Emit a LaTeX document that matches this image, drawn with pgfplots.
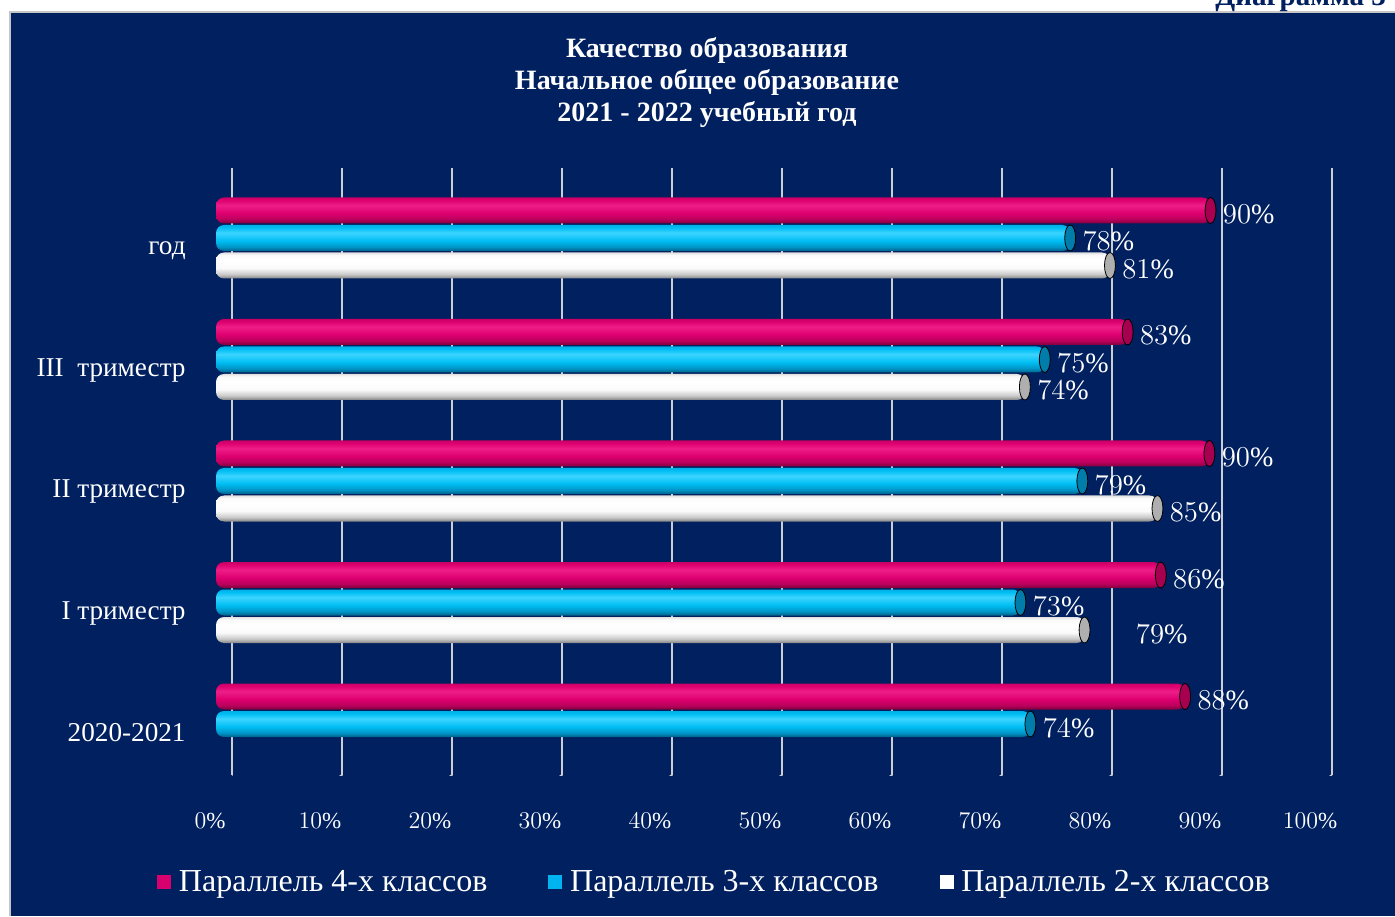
\documentclass[border=0pt]{standalone}
\usepackage{fontspec}
\setmainfont{Liberation Serif}
\usepackage{pgfplots}
\usepackage{pgfplotstable}
\pgfplotsset{compat=1.18}

\definecolor{navy}{RGB}{0,32,96}
\definecolor{gridc}{RGB}{205,205,212}
\definecolor{magD}{RGB}{125,0,58}
\definecolor{magM}{RGB}{185,0,92}
\definecolor{magB}{RGB}{222,0,112}
\definecolor{magL}{RGB}{238,30,135}
\definecolor{magT}{RGB}{200,0,100}
\definecolor{magC}{RGB}{168,0,80}
\definecolor{cyaD}{RGB}{0,95,135}
\definecolor{cyaM}{RGB}{0,150,200}
\definecolor{cyaB}{RGB}{0,190,243}
\definecolor{cyaL}{RGB}{60,212,255}
\definecolor{cyaT}{RGB}{0,175,230}
\definecolor{cyaC}{RGB}{0,125,170}
\definecolor{whD}{RGB}{130,130,130}
\definecolor{whM}{RGB}{200,200,200}
\definecolor{whB}{RGB}{250,250,250}
\definecolor{whL}{RGB}{255,255,255}
\definecolor{whT}{RGB}{225,225,225}
\definecolor{whC}{RGB}{175,175,175}
\definecolor{legM}{RGB}{215,0,110}
\definecolor{legC}{RGB}{0,180,240}
\definecolor{legW}{RGB}{255,255,255}

\pgfdeclareverticalshading{magcyl}{100bp}{color(0bp)=(magD); color(25bp)=(magD); color(33bp)=(magM); color(45bp)=(magB); color(60bp)=(magL); color(70bp)=(magB); color(75bp)=(magT); color(100bp)=(magT)}
\pgfdeclareverticalshading{cyacyl}{100bp}{color(0bp)=(cyaD); color(25bp)=(cyaD); color(33bp)=(cyaM); color(45bp)=(cyaB); color(60bp)=(cyaL); color(70bp)=(cyaB); color(75bp)=(cyaT); color(100bp)=(cyaT)}
\pgfdeclareverticalshading{whcyl}{100bp}{color(0bp)=(whD); color(25bp)=(whD); color(33bp)=(whM); color(45bp)=(whB); color(60bp)=(whL); color(70bp)=(whB); color(75bp)=(whT); color(100bp)=(whT)}

% c: category (0 = 2020-2021 ... 4 = год), v: value, lab: label, dx: extra label shift (pt)
\pgfplotstableread{
c v lab dx
4 90.0 90 0
3 82.5 83 0
2 89.9 90 0
1 85.5 86 0
0 87.7 88 0
}\magdata
\pgfplotstableread{
c v lab dx
4 77.3 78 0
3 75.0 75 0
2 78.4 79 0
1 72.8 73 0
0 73.7 74 0
}\cyadata
\pgfplotstableread{
c v lab dx
4 80.9 81 0
3 73.2 74 0
2 85.2 85 0
1 78.6 79 19.5
}\whdata

\pgfplotsset{
  cylbar/.style n args={3}{xbar, bar width=13pt, bar shift=#1, draw=none, shading=#2, rounded corners=4pt,
    point meta=explicit,
    visualization depends on={\thisrow{dx} \as \dx},
    nodes near coords={\pgfmathprintnumber{\pgfplotspointmeta}\%},
    nodes near coords style={font=\fontsize{14}{16}\selectfont, text=white, anchor=base west, inner sep=0pt,
      xshift={(6+\dx)*1pt}, yshift=#3}},
}

\begin{document}
\begin{tikzpicture}
\useasboundingbox (0,0) rectangle (697.5pt,458pt);
\fill[white] (0,0) rectangle (697.5pt,458pt);
\fill[navy] (5pt,0) rectangle (697.5pt,452pt);
\draw[gray!45, line width=0.8pt] (5pt,0) -- (5pt,452pt) -- (697.5pt,452pt);
\node[anchor=base west, inner sep=0pt, text=navy, font=\bfseries\fontsize{14.5}{16}\selectfont] at (607.5pt,455pt) {Диаграмма 3};

\node[anchor=base, inner sep=0pt, text=white, font=\bfseries\fontsize{14}{16}\selectfont] at (353.5pt,429pt) {Качество образования};
\node[anchor=base, inner sep=0pt, text=white, font=\bfseries\fontsize{14}{16}\selectfont] at (353.5pt,413pt) {Начальное общее образование};
\node[anchor=base, inner sep=0pt, text=white, font=\bfseries\fontsize{14}{16}\selectfont] at (353.5pt,397pt) {2021 - 2022 учебный год};

% back plane: grid, floor, tick labels, legend
\begin{axis}[
  at={(116pt,70.5pt)}, anchor=south west,
  scale only axis, width=550pt, height=303.5pt,
  xmin=0, xmax=100, ymin=0, ymax=1,
  axis line style={draw=none},
  ytick=\empty,
  xtick={0,10,...,100},
  xmajorgrids,
  grid style={draw=gridc, line width=1pt},
  major tick length=0pt,
  xticklabel={\pgfmathprintnumber{\tick}\%},
  x tick label style={font=\fontsize{11.5}{13}\selectfont, text=white, anchor=base, inner sep=0pt, xshift=-11pt, yshift=-26.5pt},
  legend columns=3,
  legend style={at={(axis description cs:0.4377,-0.1763)}, anchor=center,
    draw=none, fill=none, inner sep=0pt,
    font=\fontsize{16}{18}\selectfont, text=white,
    nodes={inner sep=0pt},
    /tikz/every odd column/.append style={column sep=4pt},
    /tikz/every even column/.append style={column sep=30.5pt}},
]
\pgfplotsinvokeforeach{0,10,...,100}{
  \draw[gridc, line width=1pt, line cap=round] (axis cs:#1,0) -- ++(-12pt,-9pt);
}
\addlegendimage{legend image code/.code={\fill[legM] (0pt,-3.25pt) rectangle (6.5pt,3.25pt);}}
\addlegendentry{Параллель 4-х классов}
\addlegendimage{legend image code/.code={\fill[legC] (0pt,-3.25pt) rectangle (6.5pt,3.25pt);}}
\addlegendentry{Параллель 3-х классов}
\addlegendimage{legend image code/.code={\fill[legW] (0pt,-3.25pt) rectangle (6.5pt,3.25pt);}}
\addlegendentry{Параллель 2-х классов}
\end{axis}

% bars
\begin{axis}[
  at={(108pt,65.625pt)}, anchor=south west,
  x=5.525pt, y=60.75pt,
  xmin=0, xmax=100, ymin=-0.5, ymax=4.5,
  clip=false,
  axis line style={draw=none},
  xtick=\empty,
  ytick={0,1,2,3,4},
  yticklabels={2020-2021, I триместр, II триместр, III\ \ триместр, год},
  major tick length=0pt, tick align=inside,
  y tick label style={font=\fontsize{13.6}{15}\selectfont, text=white, anchor=base east, inner sep=0pt, xshift=-15pt, yshift=-8.5pt},
]
% one bar per \addplot, so that each cylinder gets its own shading
\pgfplotsinvokeforeach{0,...,4}{
  \addplot[cylbar={13.75pt}{magcyl}{7.25pt}, restrict expr to domain={\coordindex}{#1:#1}]
    table[x=v, y=c, meta=lab] {\magdata};
  \addplot[cylbar={0pt}{cyacyl}{-6.5pt}, restrict expr to domain={\coordindex}{#1:#1}]
    table[x=v, y=c, meta=lab] {\cyadata};
}
\pgfplotsinvokeforeach{0,...,3}{
  \addplot[cylbar={-13.75pt}{whcyl}{-20.25pt}, restrict expr to domain={\coordindex}{#1:#1}]
    table[x=v, y=c, meta=lab] {\whdata};
}
% cylinder end caps
\addplot[only marks, mark=*, mark size=6.5pt, mark options={xscale=0.42, draw=none, fill=magC}]
  table[x=v, y expr=\thisrow{c}+0.22634] {\magdata};
\addplot[only marks, mark=*, mark size=6.5pt, mark options={xscale=0.42, draw=none, fill=cyaC}]
  table[x=v, y=c] {\cyadata};
\addplot[only marks, mark=*, mark size=6.5pt, mark options={xscale=0.42, draw=none, fill=whC}]
  table[x=v, y expr=\thisrow{c}-0.22634] {\whdata};
\end{axis}
\end{tikzpicture}
\end{document}
